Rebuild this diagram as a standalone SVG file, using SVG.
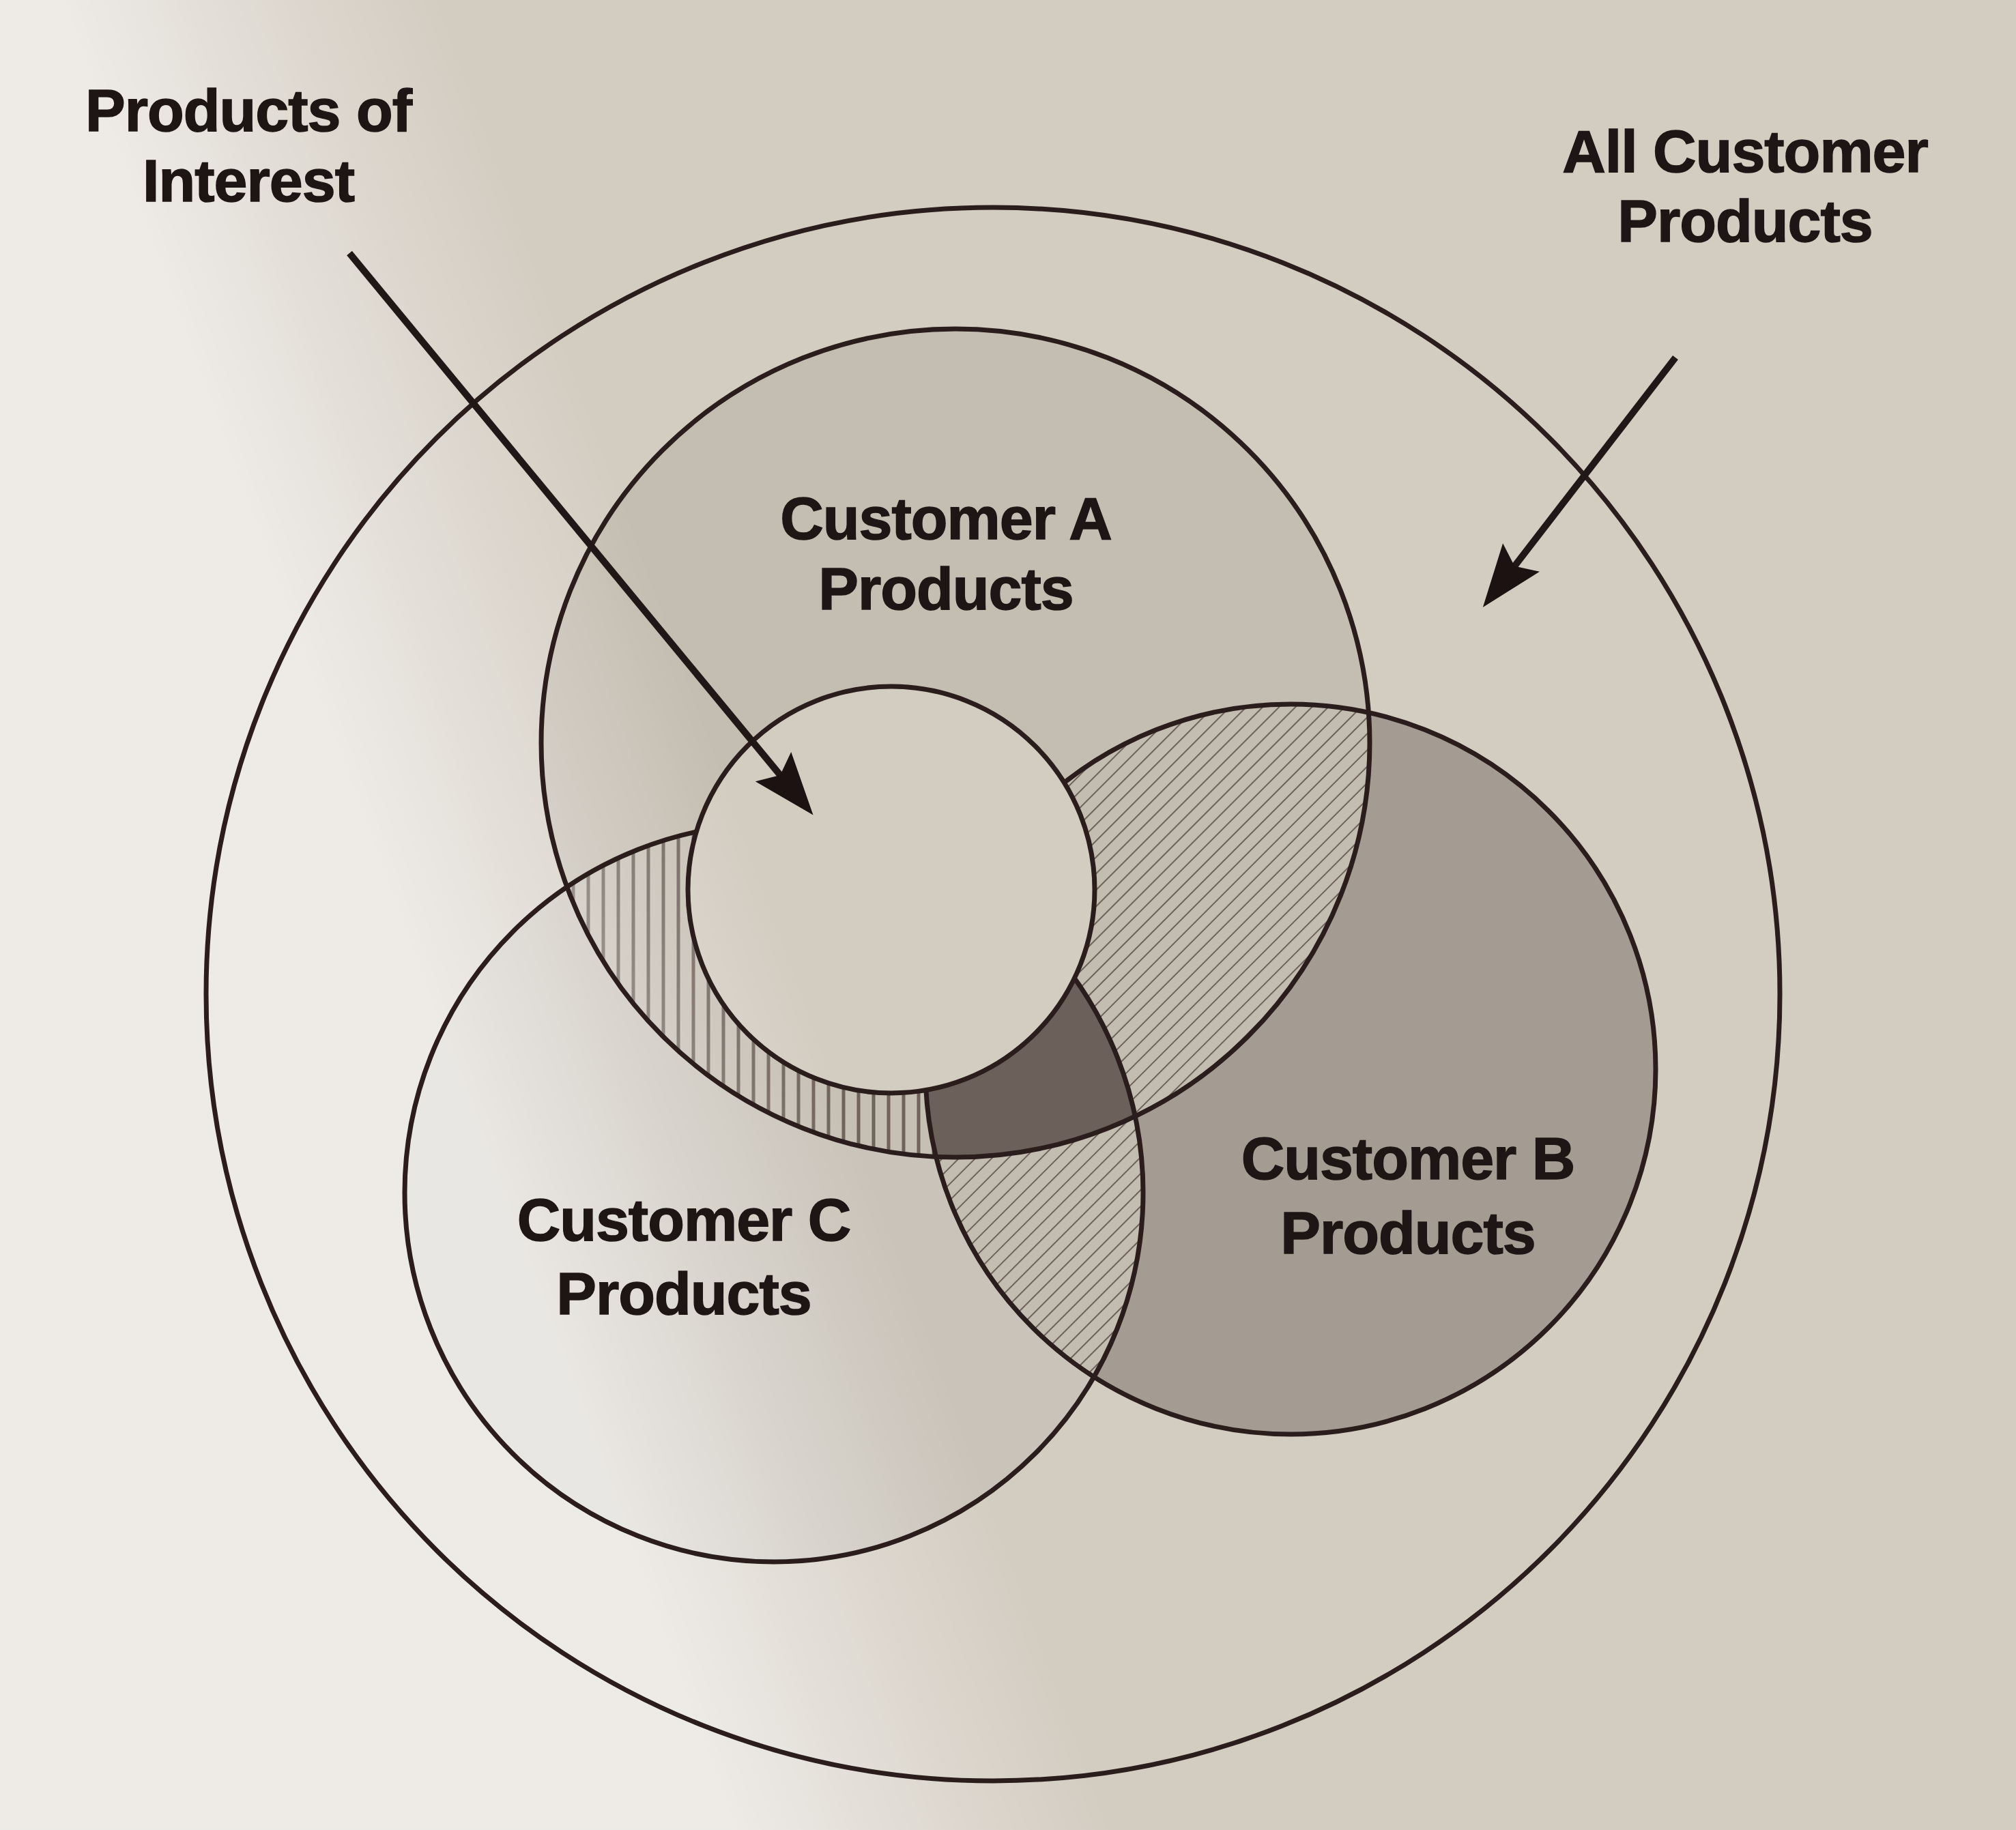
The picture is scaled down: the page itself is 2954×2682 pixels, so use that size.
<svg xmlns="http://www.w3.org/2000/svg" width="2954" height="2682" viewBox="0 0 2954 2682">
<style>
.ring{fill:none;stroke:#2a1d1c;stroke-width:7}
.arrow{fill:none;stroke:#221717;stroke-width:10}
.lbl{font-family:"Liberation Sans",Arial,Helvetica,sans-serif;font-weight:bold;font-size:88px;fill:#1e1515;stroke:#1e1515;stroke-width:1.5;text-anchor:middle;letter-spacing:-1px}
</style>
<defs>
<linearGradient id="light" gradientUnits="userSpaceOnUse" x1="640" y1="1490" x2="1130" y2="1310">
<stop offset="0" stop-color="#ffffff" stop-opacity="0.6"/>
<stop offset="0.55" stop-color="#ffffff" stop-opacity="0.25"/>
<stop offset="1" stop-color="#ffffff" stop-opacity="0"/>
</linearGradient>
<pattern id="hatchD" patternUnits="userSpaceOnUse" width="17" height="17" patternTransform="rotate(45)">
<rect width="17" height="17" fill="#c3bcb1"/>
<line x1="0" y1="0" x2="0" y2="17" stroke="#6e625a" stroke-width="4"/>
</pattern>
<pattern id="hatchV" patternUnits="userSpaceOnUse" width="22" height="22">
<rect width="22" height="22" fill="#c6bfb4"/>
<line x1="4" y1="0" x2="4" y2="22" stroke="#6e625a" stroke-width="5"/>
</pattern>
<clipPath id="clipA"><circle cx="1400" cy="1089" r="607"/></clipPath>
<clipPath id="clipB"><circle cx="1891" cy="1567" r="535"/></clipPath>
<mask id="noInner" maskUnits="userSpaceOnUse" x="0" y="0" width="2954" height="2682">
<rect x="0" y="0" width="2954" height="2682" fill="#ffffff"/>
<circle cx="1306" cy="1304" r="298" fill="#000000"/>
</mask>
<marker id="head" markerUnits="userSpaceOnUse" viewBox="-110 -40 130 80" refX="-15" refY="0" markerWidth="130" markerHeight="80" orient="auto">
<path d="M0,0 L-92,-34 L-76,0 L-92,34 Z" fill="#1c1212"/>
</marker>
</defs>
<rect x="0" y="0" width="2954" height="2682" fill="#d3ccc1"/>
<g id="fills">
<circle cx="1400" cy="1089" r="607" fill="#c4bdb1"/>
<circle cx="1134" cy="1748" r="541" fill="#c9c3b9"/>
<circle cx="1891" cy="1567" r="535" fill="#a49c92"/>
<g clip-path="url(#clipA)"><circle cx="1134" cy="1748" r="541" fill="url(#hatchV)"/></g>
<g clip-path="url(#clipA)"><circle cx="1891" cy="1567" r="535" fill="url(#hatchD)"/></g>
<g clip-path="url(#clipB)"><circle cx="1134" cy="1748" r="541" fill="url(#hatchD)"/></g>
<g clip-path="url(#clipA)"><g clip-path="url(#clipB)"><circle cx="1134" cy="1748" r="541" fill="#6c605a"/></g></g>
<circle cx="1306" cy="1304" r="298" fill="#d3ccc1"/>
</g>
<rect x="0" y="0" width="2954" height="2682" fill="url(#light)"/>
<g id="all-customer-products"><circle class="ring" cx="1455" cy="1457" r="1153"/></g>
<g mask="url(#noInner)">
<g id="customer-a"><circle class="ring" cx="1400" cy="1089" r="607"/></g>
<g id="customer-b"><circle class="ring" cx="1891" cy="1567" r="535"/></g>
<g id="customer-c"><circle class="ring" cx="1134" cy="1748" r="541"/></g>
</g>
<g id="products-of-interest"><circle class="ring" cx="1306" cy="1304" r="298"/></g>
<g id="connectors">
<line class="arrow" x1="512" y1="371" x2="1182" y2="1183" marker-end="url(#head)"/>
<line class="arrow" x1="2455" y1="524" x2="2182" y2="878" marker-end="url(#head)"/>
</g>
<g id="labels">
<text class="lbl" x="364" y="192">Products of</text>
<text class="lbl" x="364" y="295">Interest</text>
<text class="lbl" x="2557" y="252">All Customer</text>
<text class="lbl" x="2557" y="354">Products</text>
<text class="lbl" x="1386" y="790">Customer A</text>
<text class="lbl" x="1386" y="893">Products</text>
<text class="lbl" x="2063" y="1728">Customer B</text>
<text class="lbl" x="2063" y="1837">Products</text>
<text class="lbl" x="1002" y="1818">Customer C</text>
<text class="lbl" x="1002" y="1926">Products</text>
</g>
</svg>
